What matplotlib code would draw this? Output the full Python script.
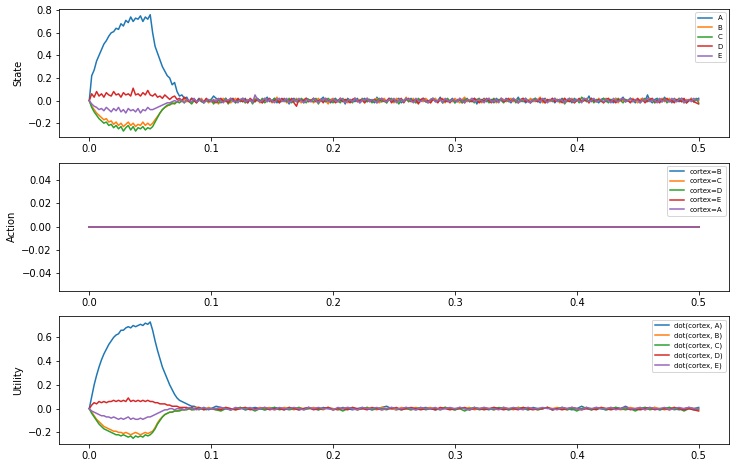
import matplotlib
matplotlib.use("Agg")
import matplotlib.pyplot as plt
import numpy as np

# ---- state (probe of the cortex state), 0.002 s steps ----
state_a_rise = [
    0.00, 0.22, 0.27, 0.35, 0.40, 0.45, 0.50, 0.53, 0.57, 0.60,
    0.61, 0.64, 0.63, 0.68, 0.66, 0.71, 0.69, 0.74, 0.70, 0.73,
    0.72, 0.75, 0.70, 0.74, 0.72, 0.76, 0.60, 0.48, 0.42, 0.36,
    0.30, 0.26, 0.22, 0.20, 0.14, 0.16, 0.08, 0.04, 0.05, 0.02,
    0.03, -0.01, 0.02, 0.01, -0.01, 0.02, 0.00, -0.02, 0.01, 0.00,
    0.01]
state_b_rise = [
    0.00, -0.05, -0.08, -0.11, -0.13, -0.15, -0.17, -0.16, -0.19, -0.18,
    -0.21, -0.19, -0.22, -0.20, -0.23, -0.21, -0.19, -0.22, -0.20, -0.23,
    -0.21, -0.22, -0.19, -0.22, -0.20, -0.22, -0.20, -0.17, -0.14, -0.11,
    -0.08, -0.06, -0.05, -0.03, -0.03, -0.02, -0.01, 0.00, -0.01, 0.01,
    -0.01, 0.00, -0.02, 0.01, -0.01, 0.00, 0.02, -0.01, 0.00, -0.02,
    0.01]
state_c_rise = [
    0.00, -0.06, -0.10, -0.13, -0.16, -0.18, -0.20, -0.19, -0.22, -0.21,
    -0.24, -0.22, -0.25, -0.23, -0.27, -0.24, -0.22, -0.26, -0.23, -0.27,
    -0.24, -0.25, -0.23, -0.26, -0.24, -0.25, -0.23, -0.19, -0.15, -0.11,
    -0.08, -0.06, -0.04, -0.04, -0.02, -0.03, -0.01, -0.02, 0.00, -0.02,
    0.01, -0.01, -0.03, 0.00, -0.02, 0.01, -0.01, -0.02, 0.00, -0.01,
    0.01]
state_d_rise = [
    0.00, 0.06, 0.03, 0.08, 0.04, 0.06, 0.03, 0.07, 0.05, 0.04,
    0.08, 0.05, 0.06, 0.03, 0.07, 0.05, 0.06, 0.04, 0.11, 0.05,
    0.06, 0.04, 0.07, 0.05, 0.09, 0.05, 0.04, 0.06, 0.03, 0.04,
    0.02, 0.05, 0.03, 0.01, 0.03, 0.04, 0.01, 0.02, 0.00, 0.03,
    0.01, -0.01, 0.02, 0.00, -0.02, 0.01, 0.00, -0.01, 0.02, 0.00,
    -0.01]
state_e_rise = [
    0.00, -0.03, -0.05, -0.06, -0.08, -0.07, -0.09, -0.06, -0.08, -0.10,
    -0.07, -0.09, -0.06, -0.10, -0.08, -0.11, -0.07, -0.09, -0.08, -0.10,
    -0.07, -0.11, -0.08, -0.09, -0.06, -0.08, -0.08, -0.07, -0.06, -0.05,
    -0.04, -0.03, -0.02, -0.02, -0.01, 0.00, -0.01, 0.01, 0.00, -0.02,
    0.01, 0.00, -0.01, 0.02, -0.01, 0.00, 0.01, -0.02, 0.00, 0.01,
    -0.01]

state_a_tail = [
    0.04, 0.02, 0.01, -0.02, 0.00, 0.02, -0.01, 0.01, 0.02, -0.02,
    0.00, 0.01, -0.01, 0.02, -0.02, 0.01, 0.00, -0.01, 0.02, 0.00,
    -0.02, 0.01, 0.03, -0.01, 0.00, 0.02, -0.02, 0.01, -0.01, 0.02,
    0.00, -0.03, 0.01, 0.02, -0.01, 0.00, 0.01, -0.02, 0.02, 0.01,
    -0.01, 0.02, 0.00, -0.02, 0.01, 0.03, -0.01, 0.00, -0.02, 0.01,
    0.02, -0.01, 0.00, 0.01, -0.03, 0.02, 0.00, 0.01, -0.01, 0.02,
    -0.02, 0.00, 0.02, -0.01, 0.01, 0.00, -0.02, 0.03, 0.00, -0.01,
    0.01, -0.02, 0.02, 0.00, -0.01, 0.01, 0.02, -0.02, 0.00, 0.01,
    0.00, 0.02, -0.01, 0.01, -0.02, 0.00, 0.02, 0.01, -0.01, 0.00,
    0.02, -0.01, 0.00, 0.03, -0.02, 0.01, -0.01, 0.00, 0.02, -0.02,
    0.01, 0.00, -0.02, 0.02, 0.01, -0.01, 0.00, 0.02, -0.03, 0.01,
    0.00, 0.02, -0.01, 0.00, 0.01, -0.02, 0.02, 0.00, 0.01, -0.01,
    0.02, 0.00, -0.02, 0.01, 0.00, 0.03, -0.01, 0.01, -0.02, 0.00,
    0.01, -0.01, 0.02, 0.00, -0.02, 0.01, 0.02, -0.01, 0.00, 0.01,
    -0.02, 0.01, 0.00, 0.02, -0.01, 0.00, 0.01, -0.02, 0.02, 0.00,
    0.01, -0.01, 0.02, 0.00, 0.04, -0.01, 0.01, 0.00, -0.02, 0.01,
    0.02, -0.01, 0.00, 0.01, -0.02, 0.02, 0.00, 0.01, 0.03, -0.01,
    0.00, 0.02, 0.01, -0.02, 0.01, 0.00, 0.02, -0.01, 0.05, 0.00,
    -0.02, 0.01, 0.02, 0.00, -0.01, 0.03, 0.00, 0.01, -0.02, 0.02,
    0.00, -0.01, 0.02, 0.01, -0.02, 0.00, 0.02, -0.01, 0.01, 0.02]
state_b_tail = [
    -0.02, 0.01, -0.03, 0.00, 0.02, -0.01, 0.01, -0.02, 0.00, 0.02,
    -0.01, 0.00, 0.02, -0.02, 0.01, 0.00, -0.01, 0.02, 0.01, -0.02,
    0.00, 0.02, -0.01, 0.01, -0.02, 0.00, 0.03, -0.01, 0.00, 0.01,
    -0.02, 0.01, 0.00, -0.01, 0.02, 0.00, -0.02, 0.01, 0.02, -0.01,
    0.01, -0.02, 0.00, 0.02, -0.01, 0.01, 0.00, -0.03, 0.01, 0.02,
    0.00, -0.01, 0.02, 0.00, 0.01, -0.02, 0.01, 0.00, 0.02, -0.01,
    0.01, 0.00, -0.02, 0.02, 0.00, -0.01, 0.01, 0.02, -0.02, 0.00,
    0.02, -0.01, 0.01, 0.00, -0.02, 0.02, 0.00, 0.01, -0.01, 0.03,
    -0.01, 0.00, 0.02, -0.02, 0.01, 0.00, -0.01, 0.02, 0.00, -0.02,
    0.01, 0.02, -0.01, 0.00, 0.02, -0.02, 0.01, 0.00, -0.01, 0.02,
    0.00, -0.02, 0.01, 0.03, -0.01, 0.00, 0.02, -0.01, 0.01, 0.00,
    -0.02, 0.01, 0.00, 0.02, -0.01, 0.01, -0.02, 0.00, 0.02, 0.01,
    -0.01, 0.00, 0.02, -0.01, 0.01, -0.02, 0.00, 0.02, 0.00, -0.01,
    0.02, 0.00, -0.01, 0.01, 0.03, -0.02, 0.01, 0.00, -0.01, 0.02,
    0.00, 0.01, -0.02, 0.00, 0.02, -0.01, 0.01, 0.02, -0.02, 0.00,
    0.01, -0.01, 0.00, 0.02, -0.02, 0.01, 0.00, -0.01, 0.02, 0.00,
    -0.02, 0.02, 0.01, -0.01, 0.00, 0.02, -0.02, 0.01, 0.00, 0.01,
    0.00, -0.01, 0.02, 0.00, -0.02, 0.01, 0.02, -0.01, 0.00, 0.02,
    0.01, -0.02, 0.00, 0.01, 0.02, -0.01, 0.00, 0.02, -0.01, 0.01,
    -0.01, 0.02, 0.00, -0.02, 0.01, 0.00, 0.02, -0.01, 0.01, 0.00]
state_c_tail = [
    -0.03, 0.00, -0.02, 0.01, -0.01, 0.02, -0.03, 0.00, 0.01, -0.02,
    0.01, -0.01, 0.02, -0.02, 0.00, 0.01, -0.03, 0.01, 0.00, -0.01,
    0.02, -0.02, 0.00, 0.01, -0.01, 0.02, 0.00, -0.02, 0.01, 0.00,
    -0.01, 0.02, -0.02, 0.00, 0.01, -0.01, 0.02, 0.00, -0.02, 0.01,
    0.00, -0.01, 0.02, -0.03, 0.01, 0.00, -0.01, 0.02, 0.00, -0.02,
    0.01, 0.00, -0.02, 0.02, -0.01, 0.01, 0.00, -0.02, 0.02, 0.00,
    -0.01, 0.02, 0.00, -0.01, 0.01, -0.02, 0.01, 0.00, 0.02, -0.01,
    0.00, -0.02, 0.01, 0.02, -0.01, 0.00, -0.03, 0.01, 0.00, 0.02,
    -0.01, 0.01, 0.00, -0.02, 0.02, 0.00, 0.01, -0.01, -0.02, 0.01,
    0.02, 0.00, -0.01, 0.01, -0.02, 0.00, 0.02, -0.01, 0.01, -0.02,
    0.00, 0.01, -0.02, 0.00, 0.02, -0.01, 0.00, -0.02, 0.01, 0.02,
    -0.01, 0.00, 0.01, -0.02, 0.00, 0.02, -0.01, 0.01, 0.00, -0.02,
    0.01, -0.01, 0.00, 0.02, -0.02, 0.01, 0.00, -0.01, 0.02, 0.00,
    -0.02, 0.01, 0.02, -0.01, 0.00, 0.01, -0.02, 0.00, 0.01, -0.01,
    0.02, 0.00, -0.01, 0.01, -0.03, 0.00, 0.02, -0.01, 0.00, 0.01,
    -0.02, 0.03, 0.01, -0.01, 0.00, 0.02, -0.02, 0.01, 0.00, -0.01,
    0.02, 0.00, -0.02, 0.01, 0.00, -0.01, 0.02, 0.00, -0.02, 0.01,
    0.00, 0.02, -0.01, 0.00, 0.01, -0.02, 0.00, 0.02, -0.01, 0.00,
    0.01, -0.02, 0.01, 0.00, -0.01, 0.02, -0.02, 0.00, 0.01, -0.01,
    0.00, 0.02, -0.01, 0.01, -0.02, 0.00, 0.01, -0.01, 0.02, -0.02]
state_d_tail = [
    0.00, -0.02, 0.01, 0.02, -0.01, 0.00, -0.02, 0.02, 0.01, -0.01,
    0.02, 0.00, -0.01, 0.01, -0.02, 0.02, 0.00, -0.01, 0.01, 0.00,
    -0.02, 0.01, 0.00, 0.02, -0.01, 0.00, 0.01, -0.02, 0.02, 0.00,
    0.01, -0.01, 0.02, -0.02, -0.05, 0.01, 0.00, 0.00, 0.02, -0.01,
    0.00, 0.02, -0.01, 0.00, 0.01, -0.02, 0.02, 0.00, -0.01, 0.01,
    -0.02, 0.00, 0.02, -0.01, 0.01, 0.00, -0.02, 0.01, 0.02, -0.01,
    0.00, 0.01, -0.02, 0.02, -0.01, 0.00, 0.01, -0.02, 0.00, 0.02,
    -0.01, 0.00, 0.02, -0.02, 0.01, -0.01, 0.00, 0.02, -0.02, 0.01,
    0.02, -0.01, 0.00, 0.01, -0.03, 0.01, 0.02, -0.01, 0.00, -0.02,
    0.01, 0.00, -0.02, 0.02, 0.01, -0.01, 0.00, -0.02, 0.01, 0.00,
    -0.01, 0.02, 0.00, -0.02, 0.01, 0.00, -0.01, 0.02, 0.00, -0.02,
    0.01, -0.01, 0.02, 0.00, -0.02, 0.01, 0.00, -0.01, 0.02, -0.01,
    0.00, 0.02, -0.01, 0.01, 0.00, -0.02, 0.01, 0.02, -0.01, 0.00,
    -0.02, 0.01, 0.00, -0.01, 0.02, 0.00, -0.02, 0.01, 0.00, 0.02,
    -0.01, 0.00, 0.01, -0.02, 0.02, 0.00, -0.01, 0.01, -0.02, 0.00,
    0.02, -0.01, 0.00, 0.01, -0.02, 0.02, 0.00, -0.01, 0.01, 0.00,
    -0.02, 0.01, 0.02, -0.01, 0.00, -0.02, 0.01, 0.00, 0.02, -0.01,
    0.00, -0.02, 0.01, 0.00, 0.02, -0.01, 0.01, -0.02, 0.00, 0.01,
    0.02, -0.01, 0.00, -0.02, 0.01, 0.00, 0.02, -0.01, 0.00, -0.02,
    0.01, 0.00, -0.01, 0.02, -0.02, 0.00, 0.01, -0.01, -0.02, -0.03]
state_e_tail = [
    0.01, -0.01, 0.02, 0.00, -0.02, 0.01, 0.00, 0.02, -0.01, 0.00,
    -0.02, 0.01, 0.02, -0.01, 0.00, 0.01, -0.02, 0.05, 0.01, -0.01,
    0.00, 0.02, -0.01, 0.01, 0.00, -0.02, 0.01, 0.02, 0.00, -0.01,
    0.02, -0.02, 0.00, 0.01, -0.01, 0.02, 0.00, -0.02, 0.01, 0.00,
    -0.01, 0.02, 0.00, -0.02, 0.01, 0.00, 0.02, -0.01, 0.00, 0.01,
    0.00, -0.01, 0.02, 0.01, -0.02, 0.00, 0.01, -0.01, 0.02, 0.00,
    -0.02, 0.01, 0.00, 0.02, -0.01, 0.01, 0.00, -0.02, 0.01, 0.02,
    0.00, -0.01, 0.01, 0.00, 0.02, -0.02, 0.00, 0.01, -0.01, 0.02,
    0.01, 0.00, -0.02, 0.02, 0.00, -0.01, 0.01, 0.00, -0.02, 0.01,
    0.02, -0.01, 0.00, 0.01, -0.02, 0.02, 0.00, -0.01, 0.01, 0.00,
    -0.01, 0.02, 0.00, -0.02, 0.01, 0.00, 0.02, -0.01, 0.00, 0.01,
    0.00, -0.02, 0.01, 0.02, -0.01, 0.00, 0.01, -0.02, 0.02, 0.00,
    0.01, 0.00, -0.01, 0.02, 0.00, -0.02, 0.01, 0.00, 0.02, -0.01,
    -0.02, 0.01, 0.00, 0.01, -0.01, 0.02, 0.00, -0.02, 0.01, 0.00,
    0.02, -0.01, 0.01, 0.00, -0.02, 0.01, 0.02, 0.00, -0.01, 0.01,
    0.00, -0.02, 0.02, 0.01, -0.01, 0.00, 0.02, -0.01, 0.00, 0.01,
    -0.01, 0.01, 0.00, -0.02, 0.02, 0.00, -0.01, 0.01, 0.02, -0.01,
    0.00, 0.02, -0.01, 0.01, 0.00, -0.02, 0.01, 0.00, 0.02, -0.01,
    0.01, 0.00, -0.02, 0.02, -0.01, 0.01, 0.00, -0.01, 0.02, 0.00,
    -0.01, 0.01, 0.02, -0.02, 0.00, 0.01, -0.01, 0.02, 0.00, 0.01]

# ---- action: basal ganglia output, flat zero ----
action_times = [0.0, 0.5]
action_b = [0.0, 0.0]
action_c = [0.0, 0.0]
action_d = [0.0, 0.0]
action_e = [0.0, 0.0]
action_a = [0.0, 0.0]

# ---- utility, 0.002 s steps early on, then 0.004 s ----
util_a_rise = [
    0.00, 0.10, 0.20, 0.28, 0.35, 0.41, 0.46, 0.50, 0.54, 0.57,
    0.60, 0.62, 0.63, 0.66, 0.66, 0.68, 0.69, 0.68, 0.70, 0.69,
    0.70, 0.71, 0.70, 0.72, 0.71, 0.73, 0.66, 0.57, 0.49, 0.42,
    0.35, 0.30, 0.25, 0.20, 0.16, 0.12, 0.09, 0.07, 0.06, 0.05,
    0.04, 0.03, 0.02, 0.02, 0.01, 0.01, 0.00, 0.01, 0.00, -0.01,
    0.00]
util_b_rise = [
    0.00, -0.03, -0.06, -0.09, -0.11, -0.13, -0.15, -0.16, -0.17, -0.18,
    -0.19, -0.19, -0.20, -0.20, -0.21, -0.20, -0.21, -0.22, -0.21, -0.20,
    -0.21, -0.22, -0.21, -0.20, -0.21, -0.20, -0.19, -0.16, -0.12, -0.09,
    -0.07, -0.05, -0.04, -0.03, -0.03, -0.02, -0.02, -0.01, -0.01, -0.01,
    0.00, 0.00, -0.01, 0.00, 0.01, 0.00, 0.00, -0.01, 0.00, 0.01,
    0.00]
util_c_rise = [
    0.00, -0.04, -0.07, -0.10, -0.13, -0.15, -0.17, -0.18, -0.19, -0.20,
    -0.21, -0.22, -0.22, -0.23, -0.22, -0.23, -0.24, -0.23, -0.25, -0.23,
    -0.24, -0.23, -0.24, -0.22, -0.23, -0.22, -0.20, -0.17, -0.13, -0.10,
    -0.07, -0.05, -0.04, -0.03, -0.03, -0.02, -0.02, -0.02, -0.01, -0.01,
    -0.01, 0.00, -0.01, -0.01, 0.00, -0.01, 0.00, 0.00, -0.01, 0.00,
    0.00]
util_d_rise = [
    0.00, 0.03, 0.05, 0.04, 0.06, 0.05, 0.06, 0.05, 0.06, 0.06,
    0.07, 0.06, 0.07, 0.06, 0.07, 0.06, 0.09, 0.06, 0.07, 0.06,
    0.07, 0.06, 0.07, 0.06, 0.07, 0.06, 0.06, 0.05, 0.05, 0.04,
    0.04, 0.04, 0.03, 0.03, 0.02, 0.02, 0.02, 0.01, 0.01, 0.01,
    0.01, 0.00, 0.01, 0.00, 0.00, 0.01, 0.00, -0.01, 0.00, 0.00,
    0.00]
util_e_rise = [
    0.00, -0.02, -0.03, -0.04, -0.05, -0.06, -0.06, -0.07, -0.07, -0.08,
    -0.07, -0.08, -0.09, -0.08, -0.09, -0.08, -0.07, -0.09, -0.08, -0.09,
    -0.09, -0.08, -0.09, -0.08, -0.07, -0.07, -0.06, -0.05, -0.04, -0.03,
    -0.02, -0.01, -0.01, 0.00, 0.00, -0.01, 0.00, 0.00, 0.00, -0.01,
    0.00, 0.01, 0.00, 0.00, -0.01, 0.00, 0.00, 0.01, 0.00, 0.00,
    0.00]

util_a_tail = [
    0.02, 0.01, 0.00, -0.01, 0.00, 0.01, -0.01, 0.00, 0.01, 0.00,
    -0.01, 0.00, 0.01, 0.00, -0.01, 0.01, 0.00, -0.01, 0.00, 0.01,
    0.00, -0.01, 0.01, 0.00, 0.00, -0.01, 0.01, 0.00, -0.01, 0.00,
    0.01, 0.00, -0.01, 0.00, 0.01, 0.02, 0.00, -0.01, 0.00, 0.01,
    0.00, -0.01, 0.00, 0.01, 0.00, -0.01, 0.00, 0.01, 0.00, -0.01,
    0.01, 0.00, -0.01, 0.01, 0.00, 0.00, -0.01, 0.01, 0.00, 0.01,
    -0.01, 0.00, 0.01, 0.00, -0.01, 0.01, 0.00, 0.00, 0.01, -0.01,
    0.00, 0.01, 0.00, -0.01, 0.00, 0.02, 0.00, -0.01, 0.01, 0.00,
    -0.01, 0.00, 0.01, 0.00, 0.02, 0.00, -0.01, 0.00, 0.01, 0.00,
    0.01, -0.01, 0.00, 0.01, 0.00, -0.01, 0.00, 0.01, 0.00, 0.01]
util_b_tail = [
    -0.01, 0.00, 0.01, 0.00, -0.01, 0.00, 0.01, 0.00, -0.01, 0.01,
    0.00, 0.01, -0.01, 0.00, 0.01, 0.00, -0.01, 0.01, 0.00, 0.00,
    0.01, 0.00, -0.01, 0.01, 0.00, -0.01, 0.00, 0.01, 0.00, -0.01,
    0.00, 0.01, 0.00, -0.01, 0.01, 0.00, 0.00, -0.01, 0.01, 0.00,
    -0.01, 0.01, 0.00, 0.00, 0.01, -0.01, 0.00, 0.01, 0.00, -0.01,
    0.01, 0.00, 0.01, -0.01, 0.00, 0.01, 0.00, -0.01, 0.00, 0.01,
    0.00, -0.01, 0.01, 0.00, 0.01, 0.00, -0.01, 0.00, 0.01, 0.00,
    0.01, 0.00, -0.01, 0.01, 0.00, 0.00, 0.01, -0.01, 0.00, 0.01,
    0.00, 0.01, 0.00, -0.01, 0.00, 0.01, 0.00, 0.01, -0.01, 0.00,
    0.01, 0.00, -0.01, 0.00, 0.01, 0.00, -0.01, 0.01, 0.00, 0.00]
util_c_tail = [
    -0.01, -0.02, 0.00, -0.01, 0.00, 0.01, -0.01, 0.00, -0.02, 0.00,
    -0.01, 0.00, 0.01, -0.01, 0.00, -0.01, 0.00, 0.01, -0.01, 0.00,
    0.00, -0.01, 0.00, 0.01, -0.01, 0.00, -0.02, 0.00, 0.01, -0.01,
    0.00, 0.01, -0.01, 0.00, 0.00, -0.01, 0.01, 0.00, -0.01, 0.00,
    -0.01, 0.00, 0.01, -0.01, 0.00, 0.00, -0.01, 0.01, 0.00, -0.01,
    0.00, -0.02, 0.00, 0.01, -0.01, 0.00, 0.00, -0.01, 0.01, 0.00,
    -0.01, 0.00, 0.00, 0.01, -0.01, 0.00, -0.01, 0.00, 0.01, -0.01,
    0.00, 0.01, -0.01, 0.00, -0.02, 0.00, 0.01, -0.01, 0.00, 0.00,
    -0.01, 0.00, 0.01, 0.00, -0.01, 0.00, -0.02, 0.00, 0.01, -0.01,
    0.00, -0.01, 0.00, 0.01, -0.01, 0.00, -0.02, 0.00, -0.01, -0.01]
util_d_tail = [
    0.00, -0.01, 0.01, 0.00, -0.01, 0.00, 0.01, -0.01, 0.00, 0.00,
    0.01, -0.01, 0.00, 0.00, -0.01, 0.01, 0.00, -0.01, 0.00, 0.01,
    -0.01, 0.00, 0.00, 0.01, -0.01, 0.00, 0.00, -0.01, 0.01, 0.00,
    0.00, -0.01, 0.01, 0.00, -0.01, 0.00, 0.00, 0.01, -0.01, 0.00,
    0.01, 0.00, -0.01, 0.00, 0.00, -0.01, 0.01, 0.00, -0.01, 0.00,
    0.00, 0.01, -0.01, 0.00, 0.00, -0.01, 0.00, 0.01, 0.00, -0.01,
    0.00, 0.00, -0.01, 0.01, 0.00, -0.01, 0.00, 0.00, 0.01, -0.01,
    0.00, -0.01, 0.00, 0.01, 0.00, -0.01, 0.00, 0.00, -0.01, 0.01,
    0.00, -0.01, 0.00, 0.00, 0.01, -0.01, 0.00, -0.01, 0.00, 0.01,
    -0.01, 0.00, 0.00, -0.01, 0.01, 0.00, -0.01, 0.00, -0.01, -0.02]
util_e_tail = [
    0.00, 0.01, 0.00, -0.01, 0.01, 0.00, 0.00, 0.01, -0.01, 0.00,
    0.01, 0.00, -0.01, 0.01, 0.00, 0.00, 0.01, 0.00, -0.01, 0.01,
    0.00, 0.01, 0.00, 0.00, -0.01, 0.01, 0.00, 0.01, 0.00, -0.01,
    0.01, 0.00, 0.00, 0.01, -0.01, 0.00, 0.01, 0.00, 0.00, 0.01,
    0.00, -0.01, 0.01, 0.00, 0.00, 0.01, -0.01, 0.00, 0.01, 0.00,
    0.01, 0.00, -0.01, 0.01, 0.00, 0.01, 0.00, 0.00, -0.01, 0.01,
    0.00, 0.01, 0.00, -0.01, 0.01, 0.00, 0.00, 0.01, 0.00, 0.00,
    -0.01, 0.01, 0.00, 0.01, 0.00, -0.01, 0.01, 0.00, 0.01, 0.00,
    0.00, 0.01, -0.01, 0.00, 0.01, 0.00, 0.00, 0.01, -0.01, 0.01,
    0.00, 0.00, 0.01, -0.01, 0.00, 0.01, 0.00, 0.01, 0.00, 0.00]


def series(rise, tail, tail_step):
    t1 = np.arange(len(rise)) * 0.002
    t2 = t1[-1] + tail_step * np.arange(1, len(tail) + 1)
    return np.concatenate([t1, t2]), np.array(rise + tail)


fig, axes = plt.subplots(3, 1, figsize=(735 / 72, 468 / 72), dpi=72)
fig.subplots_adjust(left=0.080, right=0.992, top=0.981, bottom=0.051, hspace=0.2)

ax = axes[0]
for rise, tail, lab in [(state_a_rise, state_a_tail, "A"),
                        (state_b_rise, state_b_tail, "B"),
                        (state_c_rise, state_c_tail, "C"),
                        (state_d_rise, state_d_tail, "D"),
                        (state_e_rise, state_e_tail, "E")]:
    t, y = series(rise, tail, 0.002)
    ax.plot(t, y, label=lab)
ax.set_ylabel("State")
ax.legend(loc="upper right", fontsize=7)

ax = axes[1]
for y, lab in [(action_b, "cortex=B"), (action_c, "cortex=C"), (action_d, "cortex=D"),
               (action_e, "cortex=E"), (action_a, "cortex=A")]:
    ax.plot(action_times, y, label=lab)
ax.set_ylabel("Action")
ax.legend(loc="upper right", fontsize=7)

ax = axes[2]
for rise, tail, lab in [(util_a_rise, util_a_tail, "dot(cortex, A)"),
                        (util_b_rise, util_b_tail, "dot(cortex, B)"),
                        (util_c_rise, util_c_tail, "dot(cortex, C)"),
                        (util_d_rise, util_d_tail, "dot(cortex, D)"),
                        (util_e_rise, util_e_tail, "dot(cortex, E)")]:
    t, y = series(rise, tail, 0.004)
    ax.plot(t, y, label=lab)
ax.set_ylabel("Utility")
ax.legend(loc="upper right", fontsize=7)

fig.savefig("out.png", dpi=72)
